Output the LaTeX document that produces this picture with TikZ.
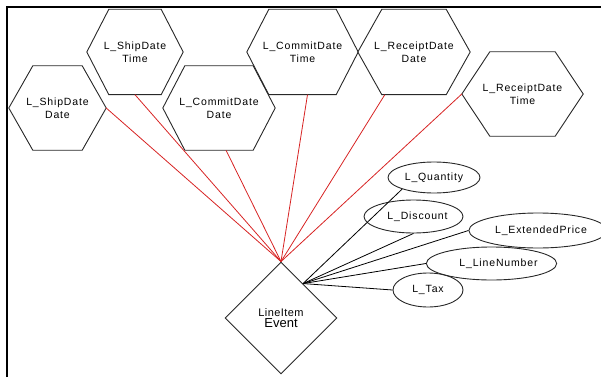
\documentclass[tikz,border=0pt]{standalone}
\usepackage{fontspec}
\setmainfont{Liberation Sans}
\newfontfamily\labelfont[LetterSpace=8]{Liberation Sans}
\newfontfamily\eventfont[LetterSpace=4]{Liberation Sans}
\usetikzlibrary{shapes.geometric,calc}

\definecolor{outline}{RGB}{40,40,40}
\definecolor{linkred}{RGB}{215,35,35}

% flat-topped hexagon drawn round a named rectangular node
\newcommand\hexoutline[2]{%
  \draw[shapeline] (#1.west) -- ([xshift=#2]#1.north west) -- ([xshift=-#2]#1.north east)
    -- (#1.east) -- ([xshift=-#2]#1.south east) -- ([xshift=#2]#1.south west) -- cycle;}

\begin{document}
\begin{tikzpicture}[x=1pt,y=-1pt,
  shapeline/.style={draw=outline, line width=0.9pt},
  hexbox/.style={inner sep=0pt, align=center,
    font=\labelfont\fontsize{10.5}{13.5}\selectfont},
  attr/.style={ellipse, shapeline, inner sep=0pt,
    font=\labelfont\fontsize{10.5}{12}\selectfont},
  event/.style={diamond, shapeline, aspect=1, inner sep=0pt,
    minimum size=112pt, align=center},
  timelink/.style={draw=linkred, line width=0.8pt},
  attrlink/.style={draw=black, line width=0.8pt},
]
\useasboundingbox (0,0) rectangle (601,377);

% frame edges
\draw[line width=2pt] (7,377) -- (7,7) -- (601,7);

% time and date dimensions
\node[hexbox, minimum width=97pt, minimum height=84pt] (h1) at (57.5,108) {L\_ShipDate\\Date};
\node[hexbox, minimum width=96pt, minimum height=85pt] (h2) at (135,52) {L\_ShipDate\\Time};
\node[hexbox, minimum width=112pt, minimum height=84pt] (h3) at (219,108) {L\_CommitDate\\Date};
\node[hexbox, minimum width=111pt, minimum height=85pt] (h4) at (302.5,52) {L\_CommitDate\\Time};
\node[hexbox, minimum width=112pt, minimum height=85pt] (h5) at (414,52) {L\_ReceiptDate\\Date};
\node[hexbox, minimum width=121pt, minimum height=84pt] (h6) at (522.5,94) {L\_ReceiptDate\\Time};
\hexoutline{h1}{24}
\hexoutline{h2}{22}
\hexoutline{h3}{22}
\hexoutline{h4}{22}
\hexoutline{h5}{24}
\hexoutline{h6}{28}

% event
\node[event] (ev) at (281,318) {{\eventfont\fontsize{11}{12}\selectfont LineItem}\\[-1pt]{\fontsize{13}{14}\selectfont Event}};
\coordinate (ej) at ($(ev.north)!0.39!(ev.east)$);

% measures
\node[attr, minimum width=92pt, minimum height=31pt] (q) at (434,177.5) {L\_Quantity};
\node[attr, minimum width=99pt, minimum height=33pt] (dc) at (413.5,216.5) {\hspace*{8pt}L\_Discount};
\node[attr, minimum width=124pt, minimum height=35pt] (ep) at (538,230.5) {\hspace*{6pt}L\_ExtendedPrice};
\node[attr, minimum width=113pt, minimum height=33pt] (ln) at (491.5,263.5) {\hspace*{14pt}L\_LineNumber};
\node[attr, minimum width=70pt, minimum height=34pt] (tx) at (428,290) {L\_Tax};

% links to the time dimensions
\draw[timelink] (h1.east) -- (ev.north);
\draw[timelink] (h2.south) -- (ev.north);
\draw[timelink] ([xshift=7]h3.south) -- (ev.north);
\draw[timelink] ([xshift=5]h4.south) -- (ev.north);
\draw[timelink] ([xshift=27]h5.south west) -- (ev.north);
\draw[timelink] (h6.west) -- (ev.north);

% links to the measures
\draw[attrlink] (q.200) -- (ej);
\draw[attrlink] (dc.south) -- (ej);
\draw[attrlink] (ep.west) -- (ej);
\draw[attrlink] (ln.west) -- (ej);
\draw[attrlink] (tx.west) -- (ej);
\end{tikzpicture}
\end{document}
